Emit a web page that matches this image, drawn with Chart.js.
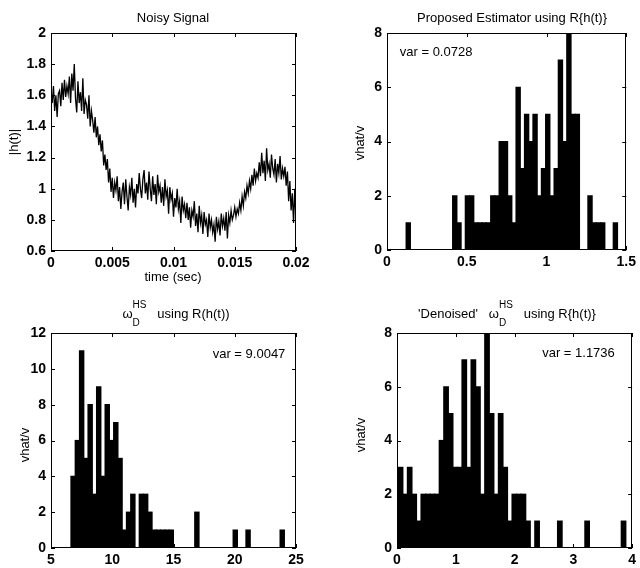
<!DOCTYPE html>
<html>
<head>
<meta charset="utf-8">
<script src="https://cdn.jsdelivr.net/npm/chart.js@4.4.1/dist/chart.umd.min.js"></script>
<style>
    html, body { margin: 0; padding: 0; background: #fff; }
    #wrap { position: relative; width: 640px; height: 568px; }
    #wrap canvas { position: absolute; left: 0; top: 0; }
</style>
</head>
<body>
<div id="wrap">
    <canvas id="signal" width="640" height="568"></canvas>
    <canvas id="proposed" width="640" height="568"></canvas>
    <canvas id="omegaHS" width="640" height="568"></canvas>
    <canvas id="denoised" width="640" height="568"></canvas>
</div>
<script>
// |h(t)|, one sample every 0.1 ms from 0 to 0.02 s
const signalStep = 0.0001;
const signalValues = [
    1.62, 1.55, 1.66, 1.50, 1.60, 1.46, 1.61, 1.63, 1.53, 1.68, 1.57, 1.70, 1.59, 1.66, 1.61, 1.72, 1.55, 1.74, 1.63, 1.80, 1.58,
    1.49, 1.69, 1.55, 1.62, 1.50, 1.71, 1.48, 1.57, 1.54, 1.45, 1.60, 1.40, 1.50, 1.44, 1.36, 1.46, 1.33, 1.40, 1.28, 1.35,
    1.24, 1.31, 1.15, 1.22, 1.12, 1.19, 1.04, 1.13, 0.98, 1.07,
    0.94, 1.04, 0.99, 1.08, 0.92, 1.01, 0.87, 0.98, 1.04, 0.90, 1.06, 0.95, 0.86, 1.01, 0.96, 1.07, 0.91, 1.00, 0.88, 1.03,
    0.97, 1.10, 1.00, 0.94, 1.06, 1.12, 0.97, 1.04, 0.93, 1.11, 1.00, 0.92, 1.08, 0.96, 1.03, 0.90, 1.09, 0.98, 1.02, 0.91,
    1.01, 0.89, 1.06, 0.95, 0.99, 0.84, 1.01, 0.93, 0.97, 0.82, 0.94, 0.88, 1.00, 0.87, 0.92, 0.78, 0.95, 0.86, 0.90, 0.81,
    0.91, 0.80, 0.88, 0.75, 0.86, 0.82, 0.92, 0.76, 0.84, 0.72, 0.89, 0.78, 0.83, 0.71, 0.85, 0.77, 0.80, 0.69, 0.84, 0.75,
    0.80, 0.72, 0.77, 0.66, 0.82, 0.74, 0.79, 0.70, 0.84, 0.76, 0.81, 0.73, 0.85, 0.68, 0.83, 0.78, 0.86, 0.80, 0.83, 0.88,
    0.82, 0.87, 0.84, 0.91, 0.86, 0.95, 0.89, 0.98, 0.94, 1.02, 0.97, 1.05, 1.00, 1.09, 1.02, 1.13, 1.05, 1.10, 1.07, 1.17,
    1.08, 1.23, 1.10, 1.18, 1.05, 1.26, 1.12, 1.16, 1.07, 1.22, 1.13, 1.09, 1.19, 1.04, 1.16, 1.10, 1.21, 1.06, 1.13, 1.08,
    1.14, 1.02, 1.11, 0.92, 1.05, 0.86, 0.97, 0.78, 1.00, 0.80
];
const signalXTicks = [0, 0.005, 0.01, 0.015, 0.02];
const signalXLabels = ["0", "0.005", "0.01", "0.015", "0.02"];
const signalYTicks = [0.6, 0.8, 1, 1.2, 1.4, 1.6, 1.8, 2];
const signalYLabels = ["0.6", "0.8", "1", "1.2", "1.4", "1.6", "1.8", "2"];

// proposed estimator histogram (50 bins)
const proposedBinStart = 0.12;
const proposedBinWidth = 0.0265;
const proposedCounts = [
    1, 0, 0, 0, 0, 0, 0, 0, 0, 0,
    0, 2, 1, 0, 2, 2, 1, 1, 1, 1,
    2, 2, 4, 4, 2, 1, 6, 3, 5, 4,
    5, 2, 3, 5, 2, 3, 7, 4, 8, 5,
    5, 0, 0, 2, 1, 1, 1, 0, 0, 1
];
const proposedXTicks = [0, 0.5, 1, 1.5];
const proposedXLabels = ["0", "0.5", "1", "1.5"];
const proposedYTicks = [0, 2, 4, 6, 8];
const proposedYLabels = ["0", "2", "4", "6", "8"];
const proposedVar = "var = 0.0728";

// omega_D^HS histogram (50 bins)
const omegaBinStart = 6.63;
const omegaBinWidth = 0.3484;
const omegaCounts = [
    4, 6, 11, 5, 8, 3, 9, 4, 8, 6,
    7, 5, 1, 2, 3, 0, 3, 3, 2, 1,
    1, 1, 1, 1, 0, 0, 0, 0, 0, 2,
    0, 0, 0, 0, 0, 0, 0, 0, 1, 0,
    0, 1, 0, 0, 0, 0, 0, 0, 0, 1
];
const omegaXTicks = [5, 10, 15, 20, 25];
const omegaXLabels = ["5", "10", "15", "20", "25"];
const omegaYTicks = [0, 2, 4, 6, 8, 10, 12];
const omegaYLabels = ["0", "2", "4", "6", "8", "10", "12"];
const omegaVar = "var = 9.0047";

// 'denoised' omega_D^HS histogram (50 bins)
const denoisedBinStart = 0.022;
const denoisedBinWidth = 0.07742;
const denoisedCounts = [
    3, 2, 3, 2, 1, 2, 2, 2, 2, 4,
    6, 5, 3, 3, 7, 3, 7, 6, 2, 8,
    5, 2, 5, 3, 1, 2, 2, 2, 1, 0,
    1, 0, 0, 0, 0, 1, 0, 0, 0, 0,
    0, 1, 0, 0, 0, 0, 0, 0, 0, 1
];
const denoisedXTicks = [0, 1, 2, 3, 4];
const denoisedXLabels = ["0", "1", "2", "3", "4"];
const denoisedYTicks = [0, 2, 4, 6, 8];
const denoisedYLabels = ["0", "2", "4", "6", "8"];
const denoisedVar = "var = 1.1736";

const FONT = "'Liberation Sans', Arial, Helvetica, sans-serif";
const Y_AXIS_W = 40;
const X_AXIS_H = 24;

const textFont = (size, weight = "normal") => `${weight} ${size}px ${FONT}`;

// title with optional stacked super/subscript pieces
const drawTitle = (ctx, parts, cx, cy) => {
    const widthOf = (p) => {
        if (p.sup !== undefined) {
            ctx.font = textFont(10);
            return Math.max(ctx.measureText(p.sup).width, ctx.measureText(p.sub).width);
        }
        ctx.font = textFont(13);
        return ctx.measureText(p.text).width;
    };
    const total = parts.reduce((acc, p) => acc + widthOf(p), 0);
    let x = cx - total / 2;
    ctx.textAlign = "left";
    ctx.textBaseline = "middle";
    parts.forEach((p) => {
        const w = widthOf(p);
        if (p.sup !== undefined) {
            ctx.font = textFont(10);
            ctx.fillText(p.sup, x, cy - 9);
            ctx.fillText(p.sub, x, cy + 9);
        } else {
            ctx.font = textFont(13);
            ctx.fillText(p.text, x, cy);
        }
        x += w;
    });
};

const matlabBox = {
    id: "matlabBox",
    afterDraw(chart, args, opts) {
        const { ctx, chartArea: a } = chart;
        const { x, y } = chart.scales;
        ctx.save();
        ctx.strokeStyle = "#000";
        ctx.lineWidth = 1;
        ctx.strokeRect(Math.round(a.left) + 0.5, Math.round(a.top) + 0.5,
            Math.round(a.right - a.left) - 1, Math.round(a.bottom - a.top) - 1);
        ctx.beginPath();
        x.ticks.forEach((t) => {
            const px = Math.round(x.getPixelForValue(t.value)) + 0.5;
            ctx.moveTo(px, a.bottom);
            ctx.lineTo(px, a.bottom - 4);
            ctx.moveTo(px, a.top);
            ctx.lineTo(px, a.top + 4);
        });
        y.ticks.forEach((t) => {
            const py = Math.round(y.getPixelForValue(t.value)) + 0.5;
            ctx.moveTo(a.left, py);
            ctx.lineTo(a.left + 4, py);
            ctx.moveTo(a.right, py);
            ctx.lineTo(a.right - 4, py);
        });
        ctx.stroke();

        ctx.fillStyle = "#000";
        drawTitle(ctx, opts.title, opts.titleAt[0], opts.titleAt[1]);
        ctx.font = textFont(13);
        ctx.textAlign = "center";
        ctx.textBaseline = "middle";
        if (opts.xTitle) {
            ctx.fillText(opts.xTitle.text, opts.xTitle.at[0], opts.xTitle.at[1]);
        }
        if (opts.yTitle) {
            ctx.save();
            ctx.translate(opts.yTitle.at[0], opts.yTitle.at[1]);
            ctx.rotate(-Math.PI / 2);
            ctx.fillText(opts.yTitle.text, 0, 0);
            ctx.restore();
        }
        if (opts.note) {
            ctx.textAlign = "left";
            ctx.fillText(opts.note.text,
                x.getPixelForValue(opts.note.at[0]),
                y.getPixelForValue(opts.note.at[1]));
        }
        ctx.restore();
    },
};

const axisOptions = (ticks, labels, min, max, isX) => ({
    type: "linear",
    min: min,
    max: max,
    offset: false,
    afterBuildTicks: (axis) => {
        axis.ticks = ticks.map((v) => ({ value: v }));
    },
    afterFit: (axis) => {
        if (isX) axis.height = X_AXIS_H;
        else axis.width = Y_AXIS_W;
    },
    grid: { display: false, drawTicks: false },
    border: { display: false },
    ticks: {
        autoSkip: false,
        maxRotation: 0,
        padding: isX ? 4 : 5,
        color: "#000",
        font: { family: FONT, size: 14, weight: "bold" },
        callback: (value, idx) => labels[idx],
    },
});

const drawPanel = (canvasId, area, type, datasets, xAxis, yAxis, box) => {
    return new Chart(document.getElementById(canvasId), {
        type: type,
        data: { datasets: datasets },
        options: {
            responsive: false,
            animation: false,
            events: [],
            layout: {
                padding: {
                    left: area[0] - Y_AXIS_W,
                    top: area[1],
                    right: 640 - area[2],
                    bottom: 568 - area[3] - X_AXIS_H,
                },
            },
            plugins: {
                legend: { display: false },
                tooltip: { enabled: false },
                matlabBox: box,
            },
            scales: { x: xAxis, y: yAxis },
        },
        plugins: [matlabBox],
    });
};

const histogramDataset = (binStart, binWidth, counts) => ({
    data: counts.map((c, i) => ({ x: binStart + (i + 0.5) * binWidth, y: c })),
    backgroundColor: "#000",
    borderWidth: 0,
    inflateAmount: 0.6,
    barPercentage: 1,
    categoryPercentage: 1,
});

drawPanel(
    "signal",
    [51, 33, 296, 251],
    "line",
    [{
        data: signalValues.map((v, i) => ({ x: i * signalStep, y: v })),
        borderColor: "#000",
        borderWidth: 1.3,
        pointRadius: 0,
        tension: 0,
    }],
    axisOptions(signalXTicks, signalXLabels, 0, 0.02, true),
    axisOptions(signalYTicks, signalYLabels, 0.6, 2, false),
    {
        title: [{ text: "Noisy Signal" }],
        titleAt: [173, 18],
        xTitle: { text: "time (sec)", at: [173, 277] },
        yTitle: { text: "|h(t)|", at: [14, 142] },
    }
);

drawPanel(
    "proposed",
    [387, 33, 632, 250],
    "bar",
    [histogramDataset(proposedBinStart, proposedBinWidth, proposedCounts)],
    axisOptions(proposedXTicks, proposedXLabels, 0, 1.5, true),
    axisOptions(proposedYTicks, proposedYLabels, 0, 8, false),
    {
        title: [{ text: "Proposed Estimator using R{h(t)}" }],
        titleAt: [512, 18],
        yTitle: { text: "vhat/v", at: [360, 143] },
        note: { text: proposedVar, at: [0.08, 7.3] },
    }
);

drawPanel(
    "omegaHS",
    [51, 333, 296, 548],
    "bar",
    [histogramDataset(omegaBinStart, omegaBinWidth, omegaCounts)],
    axisOptions(omegaXTicks, omegaXLabels, 5, 25, true),
    axisOptions(omegaYTicks, omegaYLabels, 0, 12, false),
    {
        title: [
            { text: "ω" },
            { sup: "HS", sub: "D" },
            { text: "   using R(h(t))" },
        ],
        titleAt: [176, 314],
        yTitle: { text: "vhat/v", at: [25, 445] },
        note: { text: omegaVar, at: [18.2, 10.8] },
    }
);

drawPanel(
    "denoised",
    [397, 333, 633, 548],
    "bar",
    [histogramDataset(denoisedBinStart, denoisedBinWidth, denoisedCounts)],
    axisOptions(denoisedXTicks, denoisedXLabels, 0, 4, true),
    axisOptions(denoisedYTicks, denoisedYLabels, 0, 8, false),
    {
        title: [
            { text: "'Denoised'   ω" },
            { sup: "HS", sub: "D" },
            { text: "   using R{h(t)}" },
        ],
        titleAt: [507, 314],
        yTitle: { text: "vhat/v", at: [361, 435] },
        note: { text: denoisedVar, at: [2.47, 7.25] },
    }
);
</script>
</body>
</html>
